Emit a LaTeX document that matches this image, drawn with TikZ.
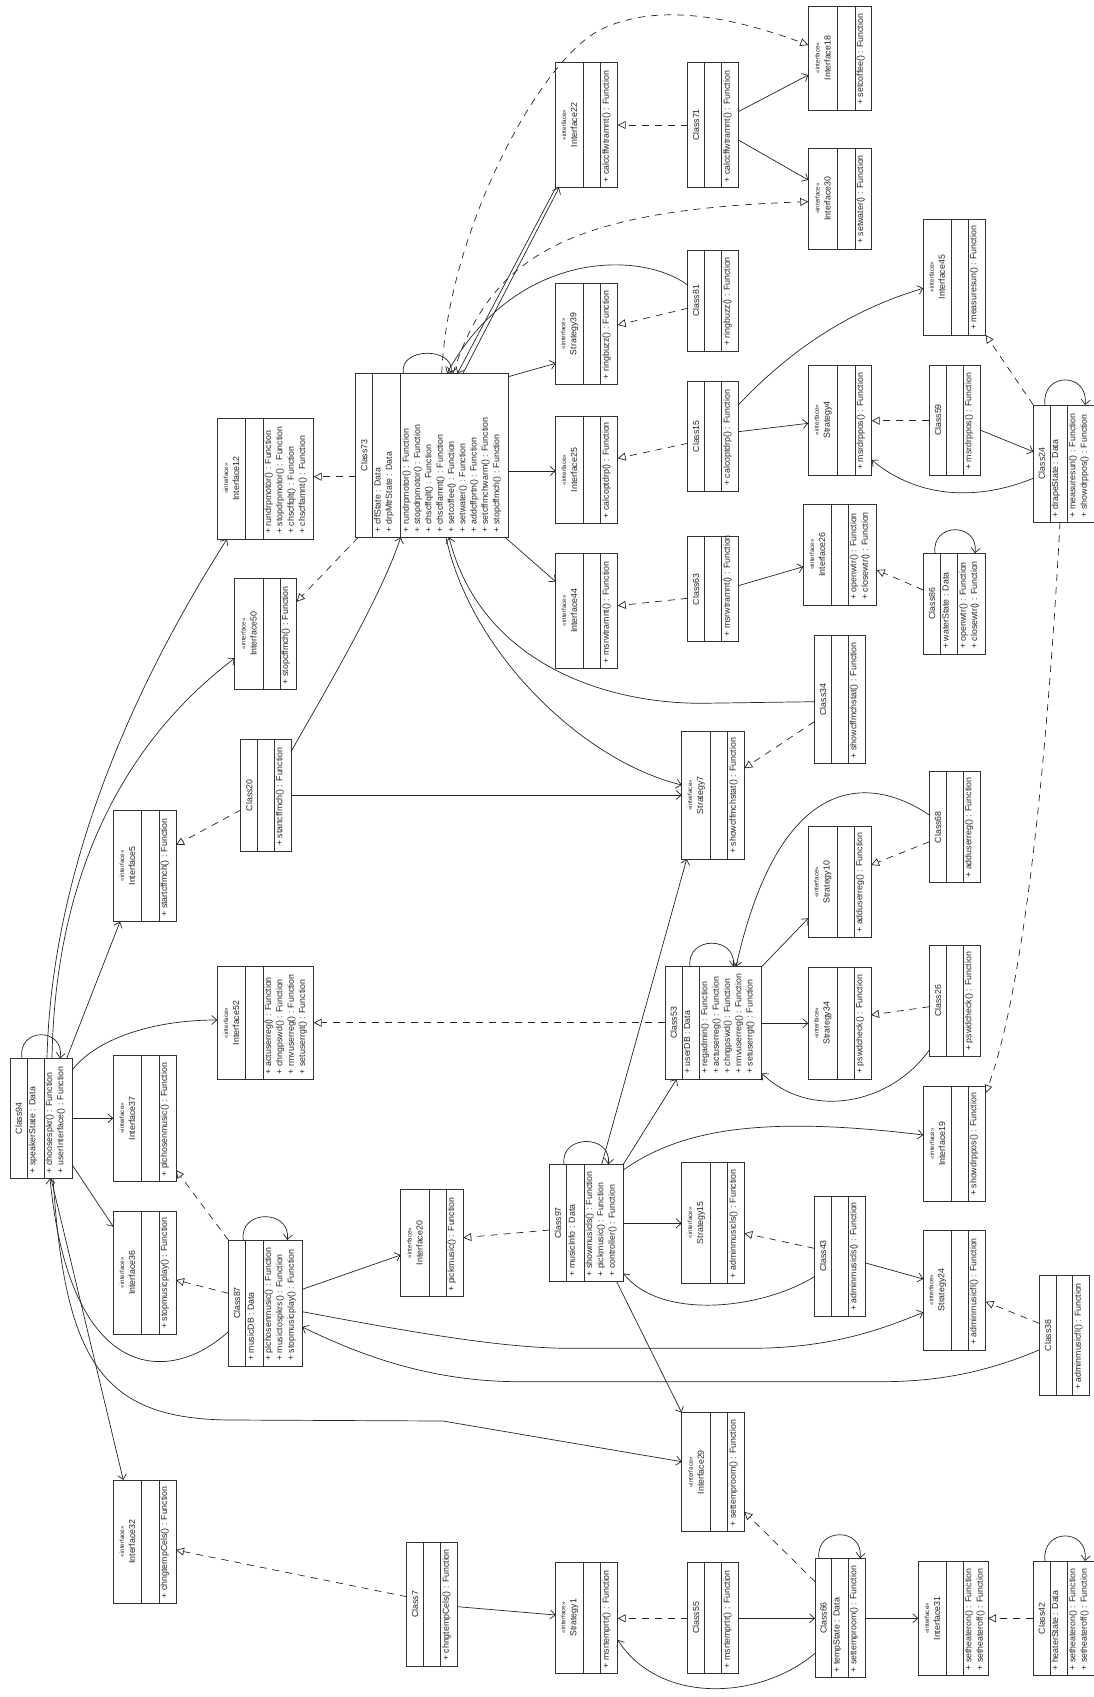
\documentclass[tikz,border=0pt]{standalone}
\usepackage{fontspec}
\setmainfont{Liberation Sans}
\usetikzlibrary{arrows.meta,fit}
\tikzset{
 box/.style={draw=black!80, line width=0.8pt, fill=white, inner sep=0pt, outer sep=0pt},
 dv/.style={draw=black!80, line width=0.8pt},
 ttl/.style={rotate=90, align=center, inner sep=0pt, font=\fontsize{8.8}{11}\selectfont, text=black!85},
 txt/.style={rotate=90, anchor=north west, align=left, inner sep=1pt, font=\fontsize{8.8}{11.3}\selectfont, text=black!85},
 assoc/.style={draw=black!85, line width=0.7pt, -{Straight Barb[length=5pt,width=9pt]}},
 real/.style={draw=black!85, line width=0.7pt, dash pattern=on 7pt off 6pt, -{Triangle[open,length=8pt,width=8pt]}}
}
\newcommand\stereo{{\fontsize{6.2}{7.5}\selectfont «interface»}\\}
\newcommand\ubox[8]{%
 \node[box, fit={(#2,#6) (#5,#7)}] (#1) {};
 \draw[dv] (#3,#6) -- (#3,#7) (#4,#6) -- (#4,#7);
 \node[ttl] at ({(#2+#3)/2},{(#6+#7)/2}) {#8};
 \def\uxa{#3}\def\uxb{#4}\def\uyb{#7}%
 \uboxrest}
\newcommand\uboxrest[2]{%
 \node[txt] at ({\uxa+0.6},{\uyb-4}) {#1};
 \node[txt] at ({\uxb+0.6},{\uyb-4}) {#2};}
\begin{document}
\begin{tikzpicture}[x=1pt,y=-1pt]
\fill[white] (0,0) rectangle (1094,1697);
\useasboundingbox (0,0) rectangle (1094,1697);

\ubox{c94}{10}{27.3}{44}{72.3}{1058.3}{1178.3}{Class94}{+ speakerState : Data}{+ choosespkr() : Function\\+ userInterface() : Function}
\ubox{i5}{113.3}{141.7}{159}{176}{810}{921.7}{\stereo Interface5}{}{+ startcffmch() : Function}
\ubox{i37}{113.3}{141.7}{159}{176}{1055}{1181.7}{\stereo Interface37}{}{+ plchosenmusic() : Function}
\ubox{i36}{113.3}{141.7}{159}{176}{1211.7}{1334}{\stereo Interface36}{}{+ stopmusicplay() : Function}
\ubox{i32}{113.3}{141.7}{159}{176}{1480}{1603.3}{\stereo Interface32}{}{+ chngtempCels() : Function}
\ubox{i52}{217.3}{245.7}{263}{313.7}{966.7}{1079.3}{\stereo Interface52}{}{+ actuserreg() : Function\\+ chngpswd() : Function\\+ rmvuserreg() : Function\\+ setuserrgt() : Function}
\ubox{i12}{217.3}{245.7}{263}{313.7}{418}{539}{\stereo Interface12}{}{+ rundrpmotor() : Function\\+ stopdrpmotor() : Function\\+ chscffqlt() : Function\\+ chscffamnt() : Function}
\ubox{i50}{234.7}{263}{280}{296.7}{578.3}{689.3}{\stereo Interface50}{}{+ stopcffmch() : Function}
\ubox{c20}{240.7}{257.7}{274.3}{291}{739.3}{851}{Class20}{}{+ startcffmch() : Function}
\ubox{c87}{228.3}{245.7}{263}{302.3}{1240}{1366}{Class87}{+ musicDB : Data}{+ plchosenmusic() : Function\\+ musictospkrs() : Function\\+ stopmusicplay() : Function}
\ubox{c73}{355.7}{372.5}{400.7}{508.3}{373.3}{537.3}{Class73}{+ cffState : Data\\+ drpMtrState : Data}{+ rundrpmotor() : Function\\+ stopdrpmotor() : Function\\+ chscffqlt() : Function\\+ chscffamnt() : Function\\+ setcoffee() : Function\\+ setwater() : Function\\+ addcffprtn() : Function\\+ setcffmchwarm() : Function\\+ stopcffmch() : Function}
\ubox{i20}{400.7}{429.3}{446}{463.3}{1189.3}{1296.7}{\stereo Interface20}{}{+ pickmusic() : Function}
\ubox{c7}{406.7}{423.3}{440.7}{457.7}{1542.7}{1666}{Class7}{}{+ chngtempCels() : Function}
\ubox{c97}{549.3}{566.7}{584}{623.3}{1164.3}{1281.7}{Class97}{+ musicInfo : Data}{+ showmusicls() : Function\\+ pickmusic() : Function\\+ controller() : Function}
\ubox{i22}{555.7}{583.3}{600.7}{617.7}{62.3}{187.7}{\stereo Interface22}{}{+ calccffwtramnt() : Function}
\ubox{s39}{555.7}{583.3}{600.7}{617.7}{283.3}{384.3}{\stereo Strategy39}{}{+ ringbuzz() : Function}
\ubox{i25}{555.7}{583.3}{600.7}{617.7}{416.7}{523.3}{\stereo Interface25}{}{+ calcoptdrp() : Function}
\ubox{i44}{555.7}{583.3}{600.7}{617.7}{553.3}{668.3}{\stereo Interface44}{}{+ msrwtramnt() : Function}
\ubox{s1}{555.7}{583.3}{600.7}{617.7}{1562.3}{1673.3}{\stereo Strategy1}{}{+ msrtemprtr() : Function}
\ubox{c53}{665}{682.3}{699.3}{761.7}{966.7}{1079}{Class53}{+ userDB : Data}{+ regadmin() : Function\\+ actuserreg() : Function\\+ chngpswd() : Function\\+ rmvuserreg() : Function\\+ setuserrgt() : Function}
\ubox{s7}{681.7}{710.7}{727.7}{744.3}{731.7}{859}{\stereo Strategy7}{}{+ showcffmchstat() : Function}
\ubox{s15}{681.7}{710.7}{727.7}{744.3}{1162.3}{1283.3}{\stereo Strategy15}{}{+ adminmusicls() : Function}
\ubox{i29}{681.7}{710.7}{727.7}{744.3}{1412.7}{1531.7}{\stereo Interface29}{}{+ settemproom() : Function}
\ubox{c71}{687.7}{704.3}{721.7}{738.3}{62.3}{187.7}{Class71}{}{+ calccffwtramnt() : Function}
\ubox{c81}{687.7}{704.3}{721.7}{738.3}{250.7}{351}{Class81}{}{+ ringbuzz() : Function}
\ubox{c15}{687.7}{704.3}{721.7}{738.3}{381.7}{491}{Class15}{}{+ calcoptdrp() : Function}
\ubox{c63}{687.7}{704.3}{721.7}{738.3}{536.7}{641.7}{Class63}{}{+ msrwtramnt() : Function}
\ubox{c55}{687.7}{704.3}{721.7}{738.3}{1562.3}{1673.3}{Class55}{}{+ msrtemprtr() : Function}
\ubox{i26}{803.3}{831.7}{848.3}{876.7}{504.3}{605}{\stereo Interface26}{}{+ openwtr() : Function\\+ closewtr() : Function}
\ubox{i18}{808.3}{837.7}{855}{871.7}{6}{110}{\stereo Interface18}{}{+ setcoffee() : Function}
\ubox{i30}{808.3}{837.7}{855}{871.7}{148.3}{249}{\stereo Interface30}{}{+ setwater() : Function}
\ubox{s4}{808.3}{837.7}{855}{871.7}{365}{475}{\stereo Strategy4}{}{+ msrdrppos() : Function}
\ubox{s10}{808.3}{837.3}{854.3}{871}{826.7}{937.7}{\stereo Strategy10}{}{+ adduserreg() : Function}
\ubox{s34}{808.3}{837.3}{854.3}{871}{967.3}{1079}{\stereo Strategy34}{}{+ pswdcheck() : Function}
\ubox{c34}{814.3}{831.7}{848.3}{865.7}{635.7}{763.3}{Class34}{}{+ showcffmchstat() : Function}
\ubox{c43}{814.3}{831.7}{848.3}{865.7}{1196}{1316}{Class43}{}{+ adminmusicls() : Function}
\ubox{c66}{815}{831.7}{848.3}{865.7}{1558.3}{1677.7}{Class66}{+ tempState : Data}{+ settemproom() : Function}
\ubox{i31}{918.3}{946.7}{963.3}{988}{1561}{1675.7}{\stereo Interface31}{}{+ setheateron() : Function\\+ setheateroff() : Function}
\ubox{i45}{923.3}{951}{968.3}{985.7}{219}{335}{\stereo Interface45}{}{+ measuresun() : Function}
\ubox{c86}{923.3}{940.7}{957.7}{985.7}{553.3}{654}{Class86}{+ waterState : Data}{+ openwtr() : Function\\+ closewtr() : Function}
\ubox{i19}{923.3}{951.7}{968.3}{985.7}{1086.7}{1201}{\stereo Interface19}{}{+ showdrppos() : Function}
\ubox{s24}{923.3}{951.7}{968.3}{985.7}{1230}{1350}{\stereo Strategy24}{}{+ adminmusicfl() : Function}
\ubox{c59}{929}{946.7}{963.3}{980}{365}{475}{Class59}{}{+ msrdrppos() : Function}
\ubox{c68}{929.3}{946.7}{963.3}{980}{771.7}{882.7}{Class68}{}{+ adduserreg() : Function}
\ubox{c26}{929.3}{946.7}{963.3}{980}{945.7}{1056}{Class26}{}{+ pswdcheck() : Function}
\ubox{c24}{1033.3}{1050}{1067.3}{1105}{405}{522.3}{Class24}{+ drapeState : Data}{+ measuresun() : Function\\+ showdrppos() : Function}
\ubox{c42}{1033.3}{1050}{1067.3}{1105}{1561}{1675.7}{Class42}{+ heaterState : Data}{+ setheateron() : Function\\+ setheateroff() : Function}
\ubox{c38}{1039}{1056.7}{1072.7}{1089.3}{1275.7}{1395}{Class38}{}{+ adminmusicfl() : Function}

% self loops
\draw[assoc] (c94.north -| 22,0) .. controls (17,1027) and (65,1027) .. (c94.north -| 60,0);
\draw[assoc] (c87.north -| 243.3,0) .. controls (239,1209) and (291,1209) .. (c87.north -| 287.3,0);
\draw[assoc] (c97.north -| 564,0) .. controls (560,1134) and (612,1134) .. (c97.north -| 608.3,0);
\draw[assoc] (c53.north -| 690,0) .. controls (686,935.5) and (737,935.5) .. (c53.north -| 733.3,0);
\draw[assoc] (c73.north -| 403.3,0) .. controls (399,346.7) and (455,346.7) .. (c73.north -| 451,0);
\draw[assoc] (c24.north -| 1045,0) .. controls (1041,371.7) and (1089,371.7) .. (c24.north -| 1085,0);
\draw[assoc] (c86.north -| 935,0) .. controls (931,522) and (979,522) .. (c86.north -| 975,0);
\draw[assoc] (c42.north -| 1045,0) .. controls (1041,1527.7) and (1089,1527.7) .. (c42.north -| 1085,0);
\draw[assoc] (c66.north -| 819,0) .. controls (815,1527) and (864,1527) .. (c66.north -| 860,0);

% Class94
\draw[assoc] (c94.north -| 47,0) .. controls (52,850) and (150,660) .. (i12.south -| 227,0);
\draw[assoc] (c94.north -| 52,0) .. controls (55,880) and (120,745) .. (i50.west |- 0,658.3);
\draw[assoc] (c94.north -| 66.7,0) -- (i5.south -| 120,0);
\draw[assoc] (c94.east |- 0,1070) .. controls (95,1040) and (150,1020) .. (i52.west |- 0,1020);
\draw[assoc] (c94.east |- 0,1118.3) -- (i37.west |- 0,1118.3);
\draw[assoc] (c94.east |- 0,1165) -- (i36.west |- 0,1226.7);
\draw[assoc] (c94.south -| 51,0) -- (i32.north -| 123.3,0);
\draw[assoc] (c94.south -| 53,0) .. controls (65,1360) and (100,1420) .. (233,1420) -- (443,1421) -- (i29.west |- 0,1461.7);
\draw[assoc] (c87.west |- 0,1331.7) .. controls (170,1385) and (70,1385) .. (c94.south -| 50,0);

% Class87
\draw[assoc] (c87.east |- 0,1289.3) -- (i20.west |- 0,1255);
\draw[real] (c87.west |- 0,1293.3) -- (i36.east |- 0,1280);
\draw[real] (c87.north west) -- (i37.east |- 0,1170);
\draw[assoc] (c87.east |- 0,1311.7) .. controls (400,1330) and (500,1348.3) .. (570,1348.3) -- (750,1348.3) .. controls (830,1348.3) and (880,1330) .. (s24.west |- 0,1312.3);
\draw[assoc] (c38.west |- 0,1350) .. controls (980,1375) and (930,1381.7) .. (880,1381.7) -- (520,1381.7) .. controls (430,1381.7) and (360,1355) .. (c87.east |- 0,1327);

% Class20
\draw[real] (c20.west |- 0,810) -- (i5.east |- 0,845);
\draw[assoc] (c20.east |- 0,751.7) .. controls (320,700) and (380,600) .. (c73.south -| 400.7,0);
\draw[assoc] (c20.east |- 0,795) -- (s7.west |- 0,795);

% Class73
\draw[real] (c73.west |- 0,476.7) -- (i12.east |- 0,476.7);
\draw[real] (c73.south -| 358.3,0) -- (i50.east |- 0,601.7);
\draw[assoc] (c73.north -| 463,0) -- (i22.south -| 559,0);
\draw[assoc] (i22.south west) -- (c73.north -| 457.5,0);
\draw[assoc] (c81.west |- 0,285) .. controls (640,250) and (515,250) .. (c73.north -| 447,0);
\draw[real] (c73.north -| 441.7,0) .. controls (448,230) and (540,60) .. (600,30) .. controls (660,0) and (740,20) .. (i18.west |- 0,45);
\draw[real] (c73.north -| 453,0) .. controls (490,260) and (560,210) .. (i30.west |- 0,201.7);
\draw[assoc] (c73.east |- 0,376.7) -- (s39.west |- 0,363.3);
\draw[assoc] (c73.east |- 0,471) -- (i25.west |- 0,471);
\draw[assoc] (c73.south -| 505,0) -- (i44.west |- 0,581.7);
\draw[assoc] (c73.south -| 446,0) .. controls (470,650) and (580,760) .. (s7.west |- 0,785);
\draw[assoc] (c34.west |- 0,701.7) -- (700,703.3) .. controls (600,703) and (480,660) .. (c73.south -| 449,0);

% right side
\draw[real] (c34.west |- 0,721.7) -- (s7.east |- 0,768.3);
\draw[real] (c63.west |- 0,598.3) -- (i44.east |- 0,605.7);
\draw[assoc] (c63.east |- 0,585.7) -- (i26.west |- 0,566.7);
\draw[real] (c15.west |- 0,443.3) -- (i25.east |- 0,458.3);
\draw[assoc] (c15.east |- 0,431.7) -- (s4.west |- 0,423.3);
\draw[assoc] (c15.east |- 0,405) .. controls (790,350) and (850,310) .. (i45.west |- 0,288.3);
\draw[real] (c81.west |- 0,308.3) -- (s39.east |- 0,325);
\draw[real] (c71.west |- 0,125) -- (i22.east |- 0,125);
\draw[assoc] (c71.east |- 0,111.7) -- (i18.west |- 0,75);
\draw[assoc] (c71.east |- 0,140) -- (i30.west |- 0,180);
\draw[real] (c59.west |- 0,420.7) -- (s4.east |- 0,420.7);
\draw[assoc] (c59.east |- 0,430) -- (c24.west |- 0,451.7);
\draw[assoc] (c24.west |- 0,478.3) .. controls (980,500) and (920,500) .. (s4.east |- 0,460);
\draw[real] (c24.north west) -- (i45.south east);
\draw[real] (c24.south -| 1060,0) .. controls (1045,800) and (1020,1000) .. (i19.east |- 0,1093);
\draw[real] (c86.west |- 0,590) -- (i26.east |- 0,570);

% Class53
\draw[real] (c53.west |- 0,1022.7) -- (i52.east |- 0,1022.7);
\draw[assoc] (c53.north east) -- (s10.west |- 0,918.3);
\draw[assoc] (c53.east |- 0,1023.3) -- (s34.west |- 0,1023.3);
\draw[assoc] (c26.west |- 0,1050) .. controls (890,1105) and (810,1120) .. (c53.east |- 0,1073.3);
\draw[assoc] (c68.west |- 0,815) .. controls (870,775) and (780,770) .. (c53.north -| 736,0);
\draw[real] (c68.west |- 0,841.7) -- (s10.east |- 0,865);
\draw[real] (c26.west |- 0,1006.7) -- (s34.east |- 0,1015);

% Class97
\draw[real] (c97.west |- 0,1230) -- (i20.east |- 0,1237.7);
\draw[assoc] (c97.north -| 601.7,0) -- (s7.south -| 686.7,0);
\draw[assoc] (c97.north east) -- (c53.south -| 676.7,0);
\draw[assoc] (c97.east |- 0,1223.3) -- (s15.west |- 0,1223.3);
\draw[assoc] (c97.east |- 0,1170) .. controls (680,1130) and (760,1115) .. (i19.west |- 0,1135);
\draw[assoc] (c97.south -| 616.7,0) -- (i29.north west);
\draw[assoc] (c43.west |- 0,1276.7) .. controls (760,1310) and (660,1320) .. (c97.east |- 0,1273.3);
\draw[real] (c43.west |- 0,1248.3) -- (s15.east |- 0,1233.3);
\draw[assoc] (c43.east |- 0,1263) -- (s24.west |- 0,1279);
\draw[real] (c38.west |- 0,1323.3) -- (s24.east |- 0,1301.7);

% bottom
\draw[real] (c66.west |- 0,1581.7) -- (i29.east |- 0,1511.7);
\draw[assoc] (c66.east |- 0,1618.3) -- (i31.west |- 0,1618.3);
\draw[assoc] (c55.east |- 0,1618.3) -- (c66.west |- 0,1618.3);
\draw[assoc] (c66.west |- 0,1653.3) .. controls (760,1700) and (660,1705) .. (s1.east |- 0,1640);
\draw[real] (c42.west |- 0,1618.3) -- (i31.east |- 0,1618.3);
\draw[real] (c55.west |- 0,1618.3) -- (s1.east |- 0,1618.3);
\draw[assoc] (c7.east |- 0,1606.7) -- (s1.west |- 0,1615);
\draw[real] (c7.west |- 0,1596.7) -- (i32.east |- 0,1550);
\end{tikzpicture}
\end{document}
